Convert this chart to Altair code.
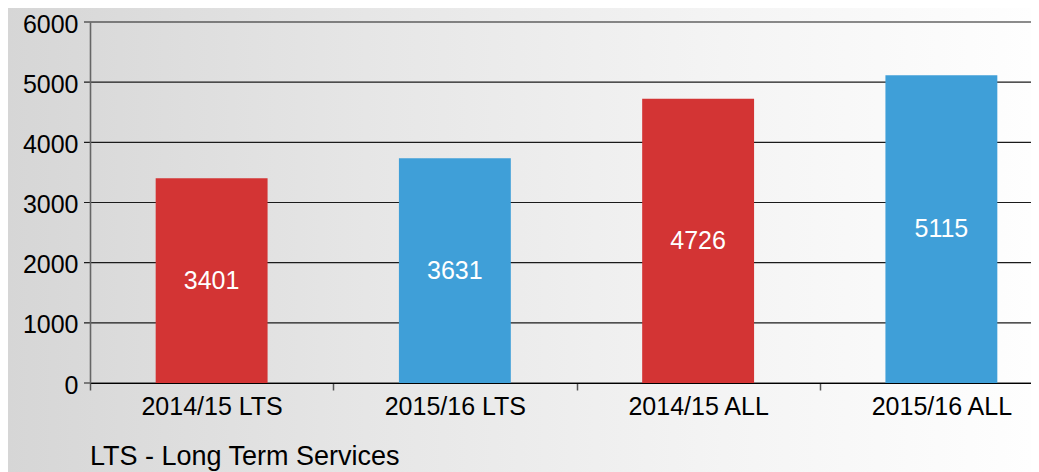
import altair as alt
import pandas as pd

categories = ["2014/15 LTS", "2015/16 LTS", "2014/15 ALL", "2015/16 ALL"]
bar_heights = [3401, 3735, 4726, 5115]
bar_labels = ["3401", "3631", "4726", "5115"]
bar_colors = ["#D33434", "#3F9FD8", "#D33434", "#3F9FD8"]
y_ticks = [0, 1000, 2000, 3000, 4000, 5000, 6000]
footnote = ["LTS - Long Term Services"]

FONT = "Liberation Sans"
W, H = 941, 361
STEP = 973 / 4

df = pd.DataFrame({"cat": categories, "h": bar_heights, "lab": bar_labels, "col": bar_colors})
df["mid"] = df["h"] / 2
grid = pd.DataFrame({"v": y_ticks})
note = pd.DataFrame({"t": footnote})

xscale = alt.Scale(domain=categories, range=[0, 973], paddingInner=0.54, paddingOuter=0.27)
yscale = alt.Scale(domain=[0, 6000], nice=False)

gradient = alt.LinearGradient(
    gradient="linear",
    stops=[
        alt.GradientStop(color="#d6d6d6", offset=0),
        alt.GradientStop(color="#e6e6e6", offset=0.35),
        alt.GradientStop(color="#f4f4f4", offset=0.7),
        alt.GradientStop(color="#fefefe", offset=1),
    ],
    x1=0, x2=1, y1=0, y2=0,
)

yaxis = alt.Axis(
    title=None, values=y_ticks, format="d", grid=False, labelFont=FONT, labelFontSize=25,
    labelColor="#000", ticks=False, labelPadding=12, domainColor="#666",
    domainWidth=1.6, zindex=1, labelOffset=2,
)
xaxis = alt.Axis(
    title=None, labelAngle=0, labelFont=FONT, labelFontSize=25, labelColor="#000",
    ticks=True, tickOffset=-STEP / 2, labelOffset=STEP / 2, tickSize=7, tickColor="#555",
    tickWidth=1.5, domainColor="#000", domainWidth=1.2, labelPadding=4, zindex=1,
)

bg = alt.Chart(alt.Data(values=[{"a": 1}])).mark_rect(fill=gradient, strokeWidth=0).encode(
    x=alt.value(-82), x2=alt.value(W), y=alt.value(-14), y2=alt.value(H + 89)
)

rules = alt.Chart(grid).mark_rule(color="#1a1a1a", strokeWidth=1.2).encode(
    y=alt.Y("v:Q", scale=yscale, axis=yaxis),
    x=alt.value(-6),
    x2=alt.value(W),
)

bars = alt.Chart(df).mark_bar().encode(
    x=alt.X("cat:N", scale=xscale, sort=categories, axis=xaxis),
    y=alt.Y("h:Q", scale=yscale, axis=yaxis),
    color=alt.Color("col:N", scale=None, legend=None),
)

labels = alt.Chart(df).mark_text(
    color="white", font=FONT, fontSize=25, baseline="middle", align="center"
).encode(
    x=alt.X("cat:N", scale=xscale, sort=categories, axis=xaxis),
    y=alt.Y("mid:Q", scale=yscale, axis=yaxis),
    text="lab:N",
)

foot = alt.Chart(note).mark_text(
    color="#000", font=FONT, fontSize=27, align="left", baseline="alphabetic"
).encode(
    x=alt.value(0), y=alt.value(H + 82), text="t:N"
)

chart = alt.layer(bg, rules, bars, labels, foot).properties(
    width=W, height=H,
    autosize=alt.AutoSizeParams(type="none"),
    padding={"left": 82, "top": 14, "right": 0, "bottom": 89},
).configure_view(stroke=None)

chart.save("out.html", embed_options={"renderer": "svg", "actions": False})
